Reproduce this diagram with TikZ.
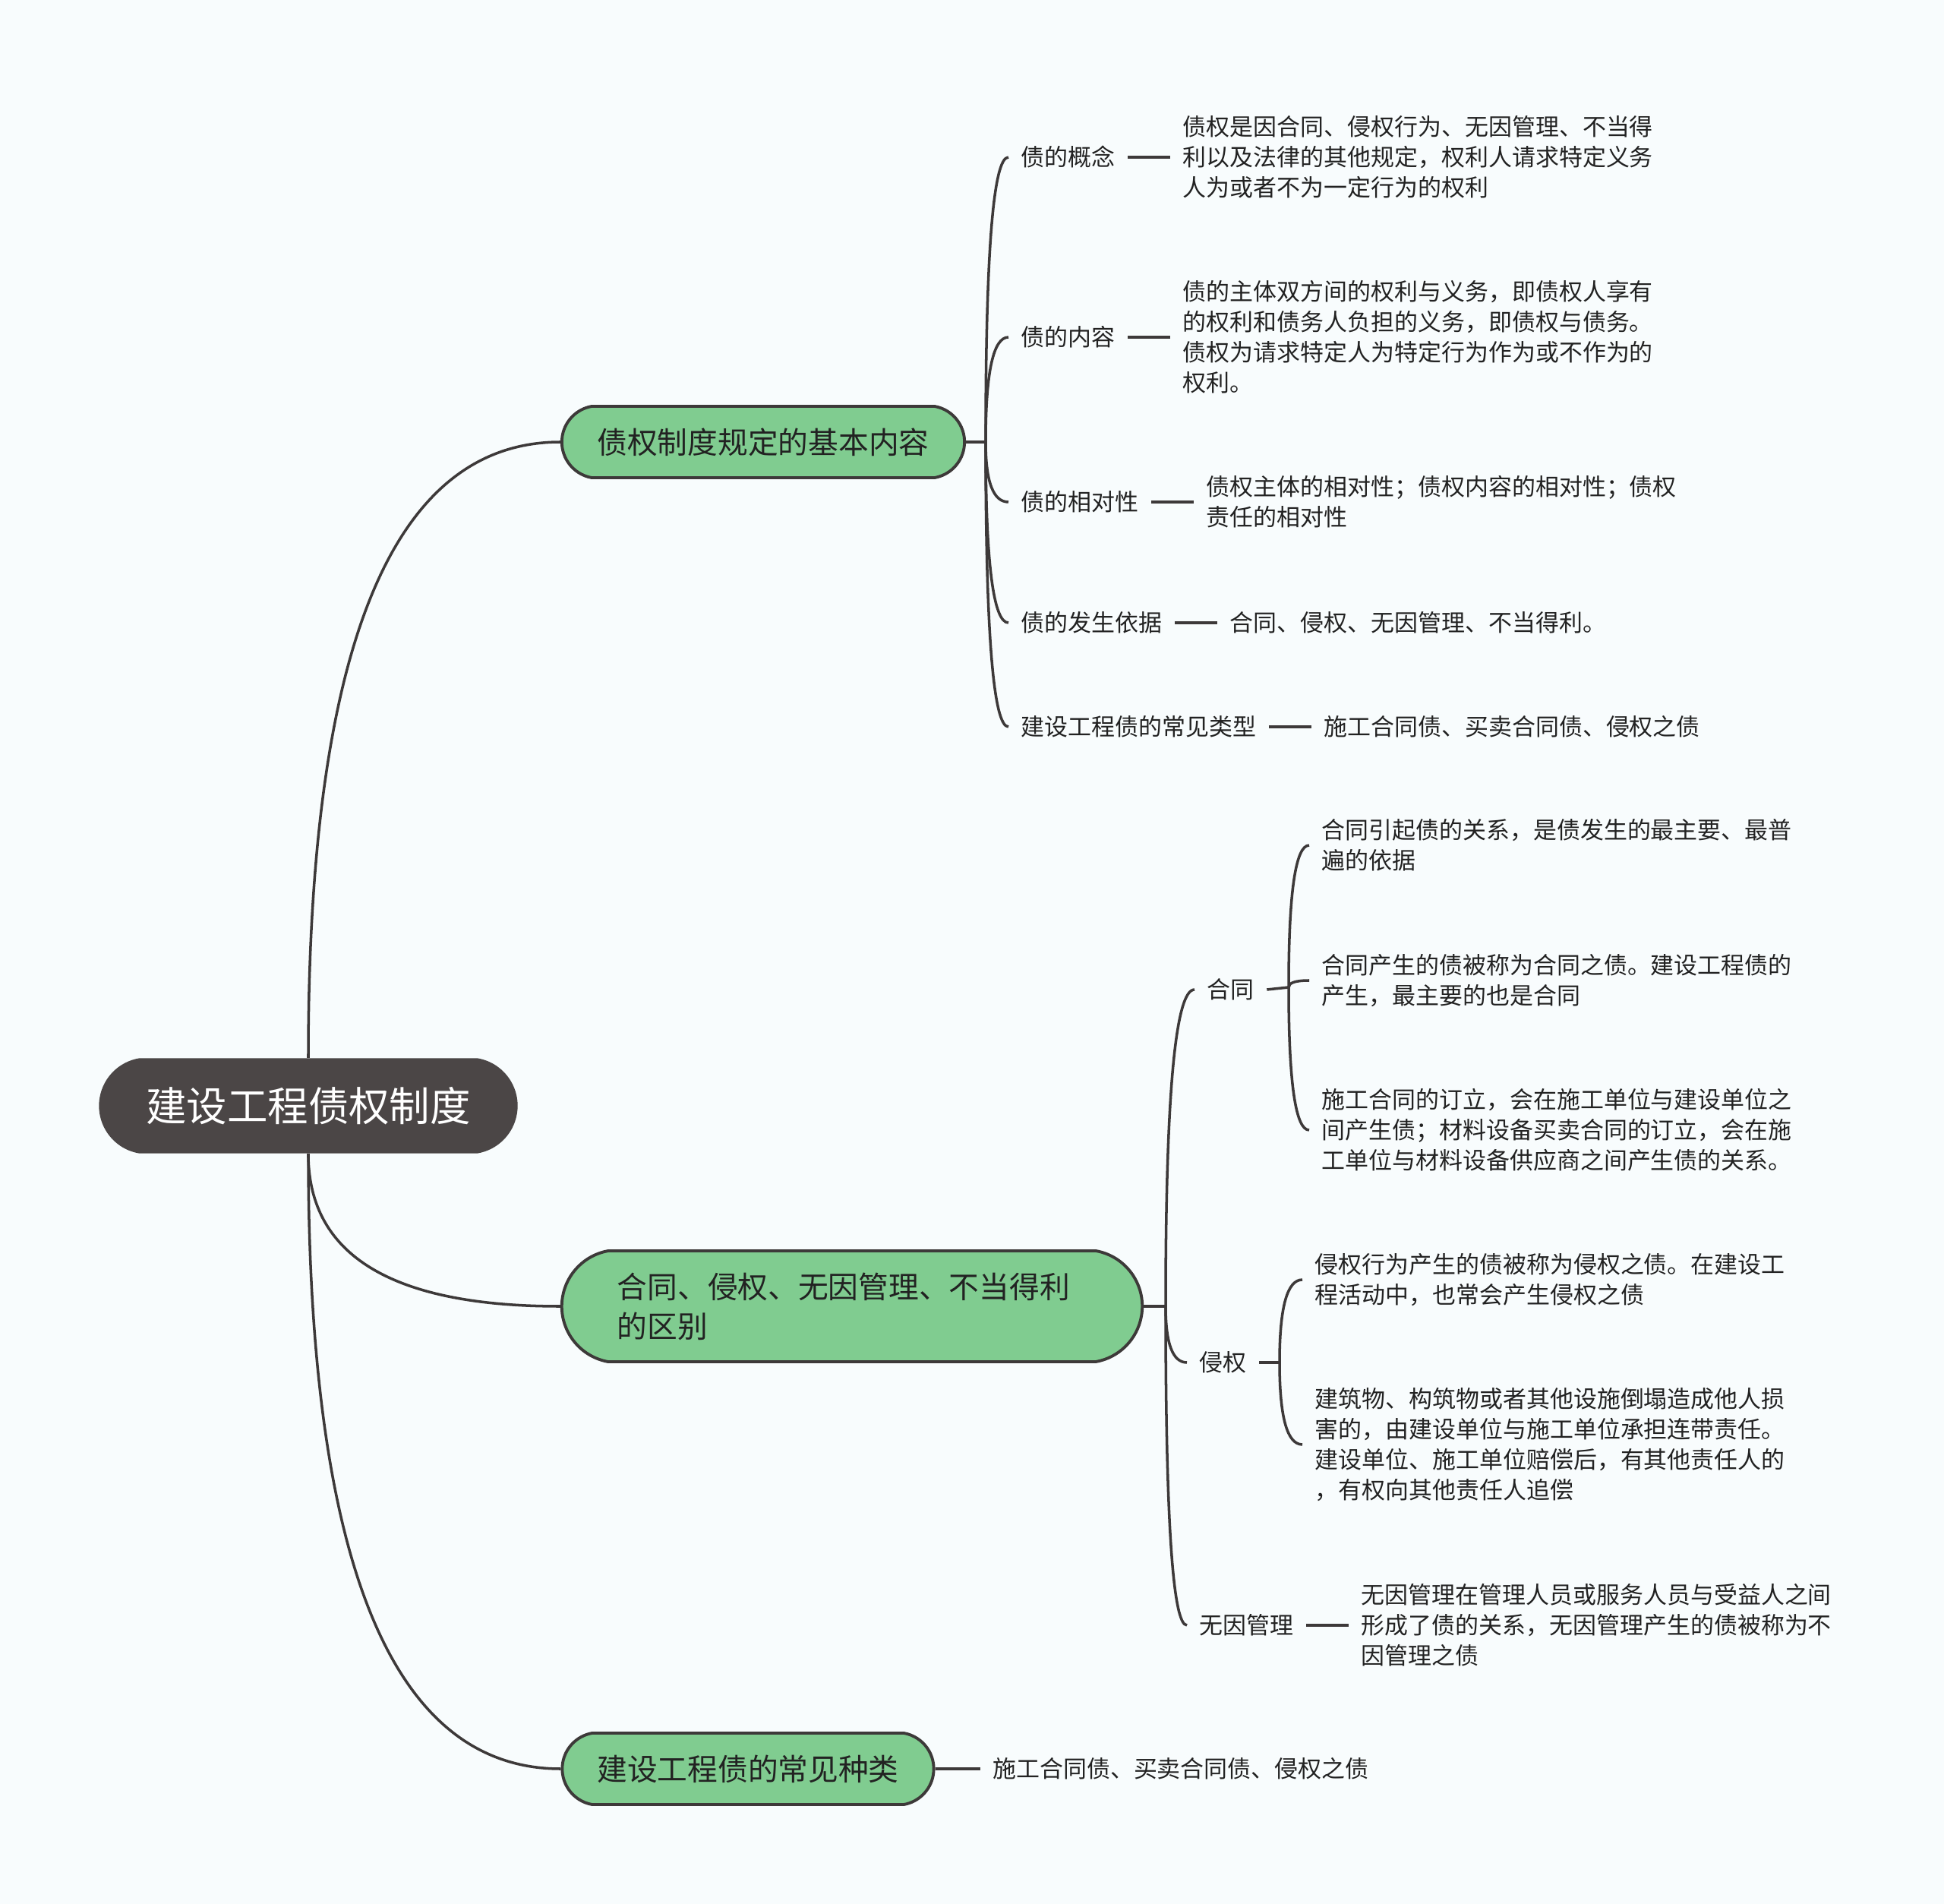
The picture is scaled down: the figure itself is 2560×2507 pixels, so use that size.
\documentclass[tikz,border=0pt]{standalone}
\usepackage{fontspec}
\setmainfont{Noto Sans CJK SC}
\usepackage{tikz}
\usetikzlibrary{positioning, calc, shapes.misc}
\definecolor{linecol}{HTML}{3D3939}
\definecolor{rootcol}{HTML}{4B4646}
\definecolor{greencol}{HTML}{80CC90}
\definecolor{bgcol}{HTML}{F8FCFD}
\definecolor{textcol}{HTML}{222222}
\newcommand{\bracelink}[2]{\draw[link] (#1) .. controls ($(#1)!.667!(#1 |- #2)$) and ($(#2)!.667!(#1 |- #2)$) .. (#2);}
\newcommand{\smallfont}{\fontsize{8.8pt}{11.4pt}\selectfont}

\begin{document}
\begin{tikzpicture}[x=0.01cm, y=-0.01cm,
		link/.style={draw=linecol, line width=1pt},
		leafline/.style={draw=linecol, line width=1.4pt},
		leaf/.style={text=textcol, font=\smallfont, align=left, inner xsep=0.16cm, inner ysep=0pt},
		topic/.style={rounded rectangle, rounded rectangle arc length=160, draw=linecol, line width=1.1pt, fill=greencol, text=textcol, font=\fontsize{11.3pt}{14.8pt}\selectfont, inner xsep=0pt, minimum height=0.94cm}]
	
	\fill[bgcol] (0,0) rectangle (2560,2507);
	\useasboundingbox (0,0) rectangle (2560,2507);
	
	\node[rounded rectangle, rounded rectangle arc length=160, fill=rootcol, text=white, font=\fontsize{15.2pt}{18pt}\selectfont, minimum width=5.51cm, minimum height=1.25cm, inner xsep=0pt] (root) at (406,1456) {建设工程债权制度};
	
	\node[topic, minimum width=5.3cm] (g1) at (1005,582) {债权制度规定的基本内容};
	\node[topic, minimum width=7.64cm, minimum height=1.46cm, text width=6.18cm, align=left] (g2) at (1122,1720) {合同、侵权、无因管理、不当得利\\的区别};
	\node[topic, minimum width=4.89cm] (g3) at (985,2329) {建设工程债的常见种类};
	
	\bracelink{root.north}{g1.west}
	\bracelink{root.south}{g2.west}
	\bracelink{root.south}{g3.west}
	
	\coordinate (g1x) at (1298,582);
	\coordinate (g2x) at (1535,1720);
	\draw[link] (g1.east) -- (g1x);
	\draw[link] (g2.east) -- (g2x);
	
	\node[leaf, anchor=west] (concept) at (1328,207) {债的概念};
	\node[leaf, anchor=west] (content) at (1328,444) {债的内容};
	\node[leaf, anchor=west] (relative) at (1328,661) {债的相对性};
	\node[leaf, anchor=west] (basis) at (1328,820) {债的发生依据};
	\node[leaf, anchor=west] (types) at (1328,957) {建设工程债的常见类型};
	
	\node[leaf, right=0.56cm of concept] (conceptT) {债权是因合同、侵权行为、无因管理、不当得\\利以及法律的其他规定，权利人请求特定义务\\人为或者不为一定行为的权利};
	\node[leaf, right=0.56cm of content] (contentT) {债的主体双方间的权利与义务，即债权人享有\\的权利和债务人负担的义务，即债权与债务。\\债权为请求特定人为特定行为作为或不作为的\\权利。};
	\node[leaf, right=0.56cm of relative] (relativeT) {债权主体的相对性；债权内容的相对性；债权\\责任的相对性};
	\node[leaf, right=0.56cm of basis] (basisT) {合同、侵权、无因管理、不当得利。};
	\node[leaf, right=0.56cm of types] (typesT) {施工合同债、买卖合同债、侵权之债};
	
	\foreach \n in {concept, content, relative, basis, types}{
		\bracelink{g1x}{\n.west}
		\draw[leafline] (\n.east) -- (\n T.west);
	}
	
	\node[leaf, anchor=west] (contract) at (1573,1303) {合同};
	\node[leaf, anchor=west] (tort) at (1563,1794) {侵权};
	\node[leaf, anchor=west] (negot) at (1563,2140) {无因管理};
	
	\foreach \n in {contract, tort, negot}{
		\bracelink{g2x}{\n.west}
	}
	
	\coordinate (hx) at (1697,1300);
	\coordinate (qx) at (1685,1794);
	\draw[link] (contract.east) -- (hx);
	\draw[link] (tort.east) -- (qx);
	
	\node[leaf, anchor=west] (contractA) at (1724,1113) {合同引起债的关系，是债发生的最主要、最普\\遍的依据};
	\node[leaf, anchor=west] (contractB) at (1724,1291) {合同产生的债被称为合同之债。建设工程债的\\产生，最主要的也是合同};
	\node[leaf, anchor=west] (contractC) at (1724,1488) {施工合同的订立，会在施工单位与建设单位之\\间产生债；材料设备买卖合同的订立，会在施\\工单位与材料设备供应商之间产生债的关系。};
	
	\node[leaf, anchor=west] (tortA) at (1715,1685) {侵权行为产生的债被称为侵权之债。在建设工\\程活动中，也常会产生侵权之债};
	\node[leaf, anchor=west] (tortB) at (1715,1902) {建筑物、构筑物或者其他设施倒塌造成他人损\\害的，由建设单位与施工单位承担连带责任。\\建设单位、施工单位赔偿后，有其他责任人的\\，有权向其他责任人追偿};
	
	\foreach \n in {contractA, contractB, contractC}{
		\bracelink{hx}{\n.west}
	}
	\foreach \n in {tortA, tortB}{
		\bracelink{qx}{\n.west}
	}
	
	\node[leaf, right=0.56cm of negot] (negotT) {无因管理在管理人员或服务人员与受益人之间\\形成了债的关系，无因管理产生的债被称为不\\因管理之债};
	\draw[leafline] (negot.east) -- (negotT.west);
	
	\node[leaf, right=0.59cm of g3] (g3T) {施工合同债、买卖合同债、侵权之债};
	\draw[leafline] (g3.east) -- (g3T.west);
	
\end{tikzpicture}
\end{document}
